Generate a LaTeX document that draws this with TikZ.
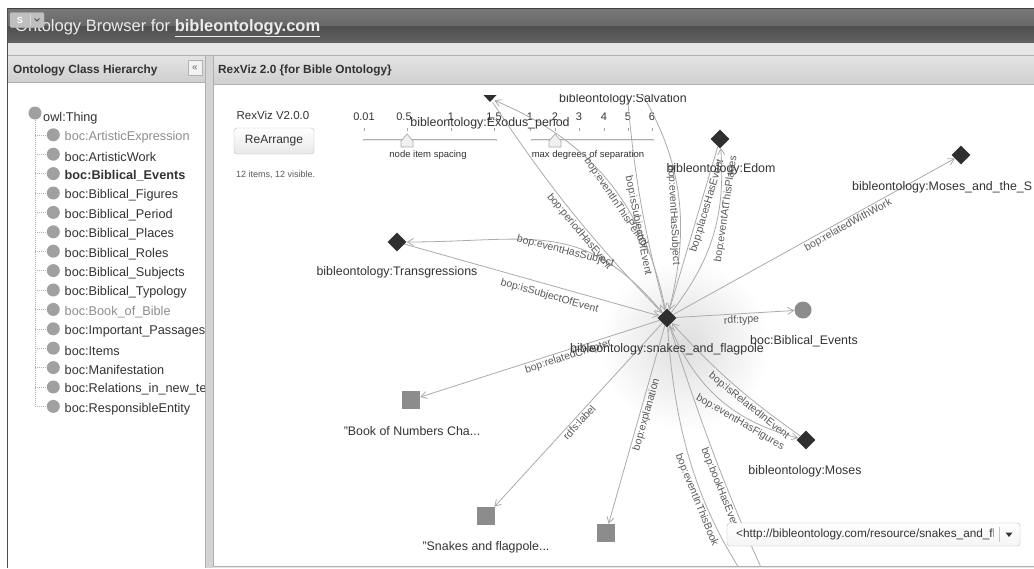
\documentclass[tikz,border=0pt]{standalone}
\usepackage{fontspec}
\setmainfont{Liberation Sans}
\usetikzlibrary{shapes.geometric,arrows.meta}

\definecolor{edgegray}{HTML}{ABABAB}
\definecolor{labgray}{HTML}{5A5A5A}
\definecolor{txtdark}{HTML}{333333}
\definecolor{txtdim}{HTML}{8E8E8E}
\definecolor{nodedark}{HTML}{2F2F2F}
\definecolor{nodegray}{HTML}{8C8C8C}
\definecolor{treegray}{HTML}{A0A0A0}
\definecolor{barA}{HTML}{777777}
\definecolor{barB}{HTML}{686868}
\definecolor{barC}{HTML}{4F4F4F}
\definecolor{barD}{HTML}{626262}
\definecolor{band}{HTML}{E6E6E6}
\definecolor{hdrA}{HTML}{E4E4E4}
\definecolor{hdrB}{HTML}{CFCFCF}
\definecolor{framegray}{HTML}{B0B0B0}
\definecolor{splitgray}{HTML}{D4D4D4}

\begin{document}
\begin{tikzpicture}[x=1pt,y=1pt,
  fs/.style={font=\fontsize{#1}{#1}\selectfont},
  edge/.style={draw=edgegray, line width=0.8pt, -{Straight Barb[length=6pt,width=7pt]}},
  elab/.style={fs=10.5, text=labgray, sloped, inner sep=1.5pt},
  diam/.style={diamond, fill=nodedark, minimum width=19, minimum height=19, inner sep=0},
  sq/.style={rectangle, fill=nodegray, minimum size=18, inner sep=0},
  nlab/.style={fs=12.4, text=txtdark, inner sep=0},
  tcirc/.style={circle, fill=treegray, minimum size=13, inner sep=0},
  tnorm/.style={fs=12.7, text=txtdark, anchor=west, inner sep=0},
  tdim/.style={tnorm, text=txtdim},
  tbold/.style={tnorm, font=\fontsize{12.7}{12.7}\selectfont\bfseries},
  treeline/.style={draw=gray!60, line width=0.6pt, dash pattern=on 1pt off 1pt},
  ctl/.style={fs=11, text=txtdark, inner sep=0},
  tickmark/.style={draw=gray!70, line width=0.7pt},
  track/.style={line width=2.6pt, draw=gray!65, line cap=round},
  thumb/.style={fill=gray!12, draw=gray!65, line width=0.7pt},
  hdrtext/.style={anchor=west, font=\fontsize{11.8}{11.8}\selectfont\bfseries, text=txtdark, inner sep=0},
]
\useasboundingbox (0,0) rectangle (1034,-568);
\fill[white] (0,0) rectangle (1034,-568);

% ---------- window title bar ----------
\shade[top color=barA, bottom color=barB] (7,-9) rectangle (1034,-26);
\shade[top color=barC, bottom color=barD] (7,-26) rectangle (1034,-43);
\draw[black!75] (7,-8.5) -- (1034,-8.5);
\node[anchor=base west, fs=16.5, text=white!92!black, inner sep=0] (title) at (15,-31.5)
  {Ontology Browser for \textbf{\underline{bibleontology.com}}};
\node[draw=gray!55, fill=gray!50, rounded corners=1.5, minimum width=34, minimum height=15, inner sep=0] (sbtn) at (27,-20) {};
\node[font=\fontsize{9}{9}\selectfont\bfseries, text=white, inner sep=0] (sbtnS) at (20,-20) {S};
\draw[gray!30] (30,-14) -- (30,-26);
\draw[black!70, line width=0.8pt] (34.5,-18.5) -- (37,-21) -- (39.5,-18.5);

% ---------- panels ----------
\fill[band] (8,-43) rectangle (1034,-55);
\shade[top color=hdrA, bottom color=hdrB] (8,-55) rectangle (205,-82);
\shade[top color=hdrA, bottom color=hdrB] (213,-55) rectangle (1034,-84);
\fill[white] (8,-82) rectangle (205,-568);
\fill[splitgray] (205,-55) rectangle (213,-568);
\fill[white] (213,-84) rectangle (1034,-566);
\fill[band] (213,-566) rectangle (1034,-568);
\draw[framegray] (8,-55) -- (1034,-55);
\draw[framegray] (8,-82) -- (205,-82);
\draw[framegray] (213,-84) -- (1034,-84);
\draw[framegray] (205,-55) -- (205,-568);
\draw[framegray] (213,-55) -- (213,-566) -- (1034,-566);
\draw[black!70, line width=1pt] (7.5,-8) -- (7.5,-568);

\node[hdrtext] (lhdr) at (13,-70) {Ontology Class Hierarchy};
\node[draw=gray!60, fill=white!95!black, minimum width=14, minimum height=15, inner sep=0, fs=10, text=gray!80!black] (coll) at (195,-68) {«};
\node[hdrtext] (rhdr) at (218,-70) {RexViz 2.0 \{for Bible Ontology\}};

% ---------- class hierarchy tree ----------
\begin{scope}
\clip (8,-83) rectangle (204,-568);
\node[tcirc] (t0) at (35,-113) {};
\node[tnorm] (n00) at (43,-118) {owl:Thing};
\foreach \txt/\sty [count=\i from 0] in {
  ArtisticExpression/tdim, ArtisticWork/tnorm, Biblical\_Events/tbold, Biblical\_Figures/tnorm,
  Biblical\_Period/tnorm, Biblical\_Places/tnorm, Biblical\_Roles/tnorm, Biblical\_Subjects/tnorm,
  Biblical\_Typology/tnorm, Book\_of\_Bible/tdim, Important\_Passages/tnorm, Items/tnorm,
  Manifestation/tnorm, Relations\_in\_new\_te/tnorm, ResponsibleEntity/tnorm}{
  \pgfmathsetmacro\yy{137.3+19.4*\i}
  \node[tcirc] (c\i) at (53.3,-\yy+2.5) {};
  \node[\sty] (n\i) at (64.5,-\yy) {boc:\txt};
  \draw[treeline] (t0.south |- c\i.center) -- (c\i.west);
}
\draw[treeline] (t0.south) -- (t0.south |- c14.center);
\end{scope}

% ---------- viewer controls ----------
\node[fs=11.5, text=txtdark, inner sep=0] (rv) at (273,-115) {RexViz V2.0.0};
\node[draw=gray!55, rounded corners=3, top color=white, bottom color=gray!18,
      minimum width=80, minimum height=26, inner sep=0, fs=12, text=txtdark] (rearr) at (274,-141) {ReArrange};
\node[anchor=west, fs=9, text=labgray, inner sep=0] (cnt) at (236,-175) {12 items, 12 visible.};

% slider: node item spacing
\draw[track] (364,-140) -- (496,-140);
\draw[line width=1pt, draw=gray!15, line cap=round] (364,-140) -- (496,-140);
\foreach \x/\t [count=\k] in {364/0.01, 404/0.5, 451/1, 494/1.5}{
  \node[ctl] (sa\k) at (\x,-117) {\t};
}
\foreach \x in {364,407,451,494}{ \draw[tickmark] (\x,-128) -- (\x,-131); }
\filldraw[thumb] (401,-147) -- (413,-147) -- (413,-141) -- (407,-134) -- (401,-141) -- cycle;
\node[fs=9.5, text=txtdark, inner sep=0] (sal) at (428,-155) {node item spacing};

% slider: max degrees of separation
\draw[track] (532,-140) -- (653,-140);
\draw[line width=1pt, draw=gray!15, line cap=round] (532,-140) -- (653,-140);
\foreach \x/\t [count=\k] in {530/1, 555/2, 579/3, 604/4, 628/5, 652/6}{
  \node[ctl] (sb\k) at (\x,-117) {\t};
  \draw[tickmark] (\x,-128) -- (\x,-131);
}
\filldraw[thumb] (549,-147) -- (561,-147) -- (561,-141) -- (555,-134) -- (549,-141) -- cycle;
\node[fs=9.5, text=txtdark, inner sep=0] (sbl) at (588,-155) {max degrees of separation};

% ---------- graph ----------
\begin{scope}
\clip (214,-94.5) rectangle (1034,-565);
\shade[inner color=black!13, outer color=white] (685,-345) circle (85);

\node[diam] (C) at (667,-318) {};
\node[circle, minimum size=9, inner sep=0] (Ex) at (490,-98.5) {};
\fill[nodedark] (483.5,-95) -- (496.5,-95) -- (490,-102) -- cycle;
\node[diam] (Sal) at (625,-67) {};
\node[diam] (Ed) at (720,-139) {};
\node[diam] (MS) at (961,-155) {};
\node[diam] (Tr) at (397,-242) {};
\node[circle, fill=nodegray, minimum size=17, inner sep=0] (BE) at (803,-310) {};
\node[sq] (BN) at (411,-400) {};
\node[sq] (SF) at (486,-516) {};
\node[sq] (SQ) at (606,-533) {};
\node[diam] (Mo) at (806,-440) {};
\node[diam] (Bk) at (800,-650) {};

\draw[edge] (Ex) to[bend right=5] node[elab, pos=0.58, below] (e1) {bop:periodHasEvent} (C);
\draw[edge] (C) to[bend right=28] node[elab, pos=0.42, below] (e2) {bop:eventInThisPeriod} (Ex);
\draw[edge] (Sal) to[bend right=5] node[elab, pos=0.64, below] (e3) {bop:isSubjectOfEvent} (C);
\draw[edge] (C) to[bend right=24] node[elab, pos=0.38, below] (e4) {bop:eventHasSubject} (Sal);
\draw[edge] (Ed) to node[elab, pos=0.35, below] (e5) {bop:placesHasEvent} (C);
\draw[edge] (C) to[bend right=21] node[elab, pos=0.67, below] (e6) {bop:eventAtThisPlaces} (Ed);
\draw[edge] (C) -- node[elab, pos=0.61, below] (e7) {bop:relatedWithWork} (MS);
\draw[edge] (C) to[out=130, in=0, looseness=1.2] node[elab, pos=0.43, below] (e8) {bop:eventHasSubject} (Tr);
\draw[edge] (Tr) -- node[elab, pos=0.58, below=4pt] (e9) {bop:isSubjectOfEvent} (C);
\draw[edge] (C) -- node[elab, pos=0.55, below] (e10) {rdf:type} (BE);
\draw[edge] (C) -- node[elab, pos=0.39, below] (e11) {bop:relatedChapter} (BN);
\draw[edge] (C) -- node[elab, pos=0.52, below] (e12) {rdfs:label} (SF);
\draw[edge] (C) -- node[elab, pos=0.44, below] (e13) {bop:explanation} (SQ);
\draw[edge] (Mo) to[bend left=6] node[elab, pos=0.33, below] (e14) {bop:isRelatedInEvent} (C);
\draw[edge] (C) to[bend right=27] node[elab, pos=0.68, below] (e15) {bop:eventHasFigures} (Mo);
\draw[edge] (C) to[bend right=18] node[elab, pos=0.5, below] (e16) {bop:eventInThisBook} (Bk);
\draw[edge] (Bk) to[bend left=4] node[elab, pos=0.5, below] (e17) {bop:bookHasEvent} (C);

\node[nlab] (Exl) at (490,-123) {bibleontology:Exodus\_period};
\node[nlab] (Sall) at (623,-99) {bibleontology:Salvation};
\node[nlab] (Edl) at (721,-169) {bibleontology:Edom};
\node[nlab, anchor=west] (MSl) at (852,-187) {bibleontology:Moses\_and\_the\_S};
\node[nlab] (Trl) at (397,-272) {bibleontology:Transgressions};
\node[nlab] (BEl) at (804,-341) {boc:Biblical\_Events};
\node[nlab] (Cl) at (667,-349) {bibleontology:snakes\_and\_flagpole};
\node[nlab] (BNl) at (412,-431) {"Book of Numbers Cha...};
\node[nlab] (SFl) at (486,-547) {"Snakes and flagpole...};
\node[nlab] (Mol) at (805,-471) {bibleontology:Moses};
\end{scope}

% ---------- resource selector ----------
\node[draw=gray!55, rounded corners=3, top color=white, bottom color=gray!8,
      minimum width=293, minimum height=23, inner sep=0] (dd) at (873.5,-534.5) {};
\begin{scope}
\clip (733,-524) rectangle (993,-545);
\node[anchor=west, fs=11.8, text=txtdark, inner sep=0] (ddtext) at (736,-534.5) {<http://bibleontology.com/resource/snakes\_and\_flagpole>};
\end{scope}
\draw[gray!45] (999,-527) -- (999,-542);
\fill[txtdark] (1005.5,-532.5) -- (1012.5,-532.5) -- (1009,-537) -- cycle;
\end{tikzpicture}
\end{document}
